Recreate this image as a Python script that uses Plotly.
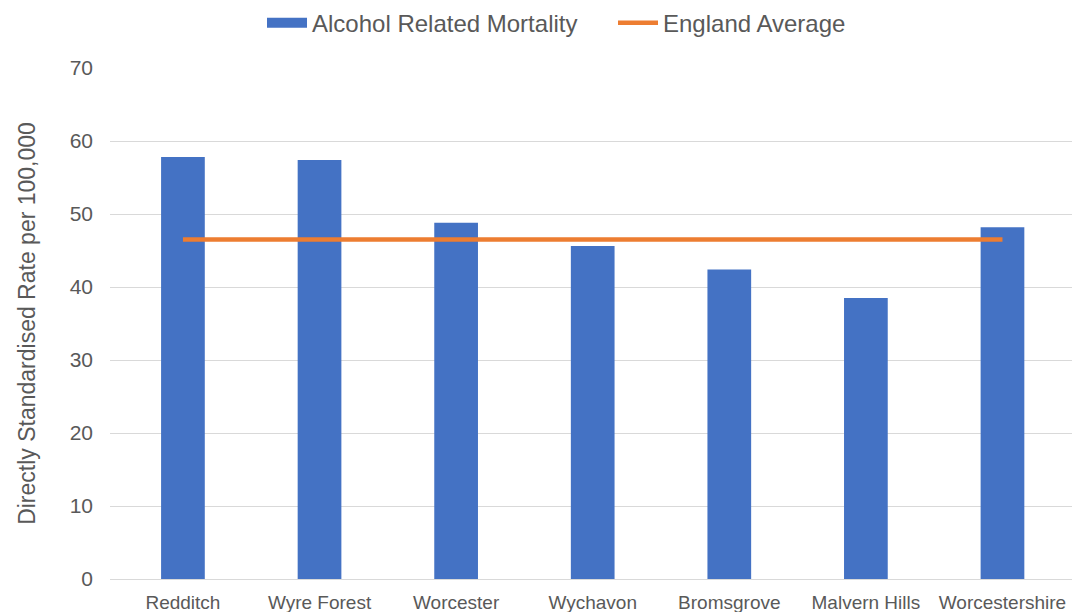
import plotly.graph_objects as go

categories = ["Redditch", "Wyre Forest", "Worcester", "Wychavon", "Bromsgrove", "Malvern Hills", "Worcestershire"]
mortality = [57.8, 57.4, 48.8, 45.6, 42.4, 38.5, 48.2]
england_avg = [46.5] * len(categories)
y_ticks = [0, 10, 20, 30, 40, 50, 60, 70]

BLUE = "#4472C4"
ORANGE = "#ED7D31"
GREY = "#595959"
FONT = "Liberation Sans, Arial, sans-serif"

fig = go.Figure()
fig.add_trace(go.Bar(
    x=list(range(len(categories))), y=mortality, name="Alcohol Related Mortality",
    marker=dict(color=BLUE, line=dict(width=0)), width=0.32, showlegend=False,
    legendgroup="m",
))
# legend entry (wide swatch like the original)
fig.add_trace(go.Scatter(
    x=[None], y=[None], mode="lines", name="Alcohol Related Mortality",
    line=dict(color=BLUE, width=10), legendgroup="m",
))
fig.add_trace(go.Scatter(
    x=list(range(len(categories))), y=england_avg, mode="lines", name="England Average",
    line=dict(color=ORANGE, width=4.5),
))

fig.update_layout(
    width=1076, height=612,
    margin=dict(l=110, r=4, t=68, b=33, autoexpand=False),
    paper_bgcolor="white", plot_bgcolor="white",
    font=dict(family=FONT, color=GREY, size=19),
    legend=dict(orientation="h", xref="container", yref="container",
                x=0.2435, xanchor="left", y=0.962, yanchor="middle",
                font=dict(size=24, color=GREY), itemwidth=40, traceorder="normal",
                entrywidth=296),
    xaxis=dict(
        tickmode="array", tickvals=list(range(len(categories))), ticktext=categories,
        range=[-0.534, 6.509], showgrid=False, zeroline=False,
        showline=True, linecolor="#D9D9D9", linewidth=1,
        tickfont=dict(size=19, color=GREY), ticks="", ticklabelstandoff=6,
    ),
    yaxis=dict(
        range=[0, 70], tickmode="array", tickvals=y_ticks,
        showgrid=True, gridcolor="#D9D9D9", gridwidth=1, zeroline=False,
        tickfont=dict(size=21, color=GREY), ticks="", ticklabelstandoff=16,
        title=dict(text="Directly Standardised Rate per 100,000",
                   font=dict(size=23, color=GREY), standoff=27),
    ),
    bargap=0.68,
)

fig.write_html("out.html")
